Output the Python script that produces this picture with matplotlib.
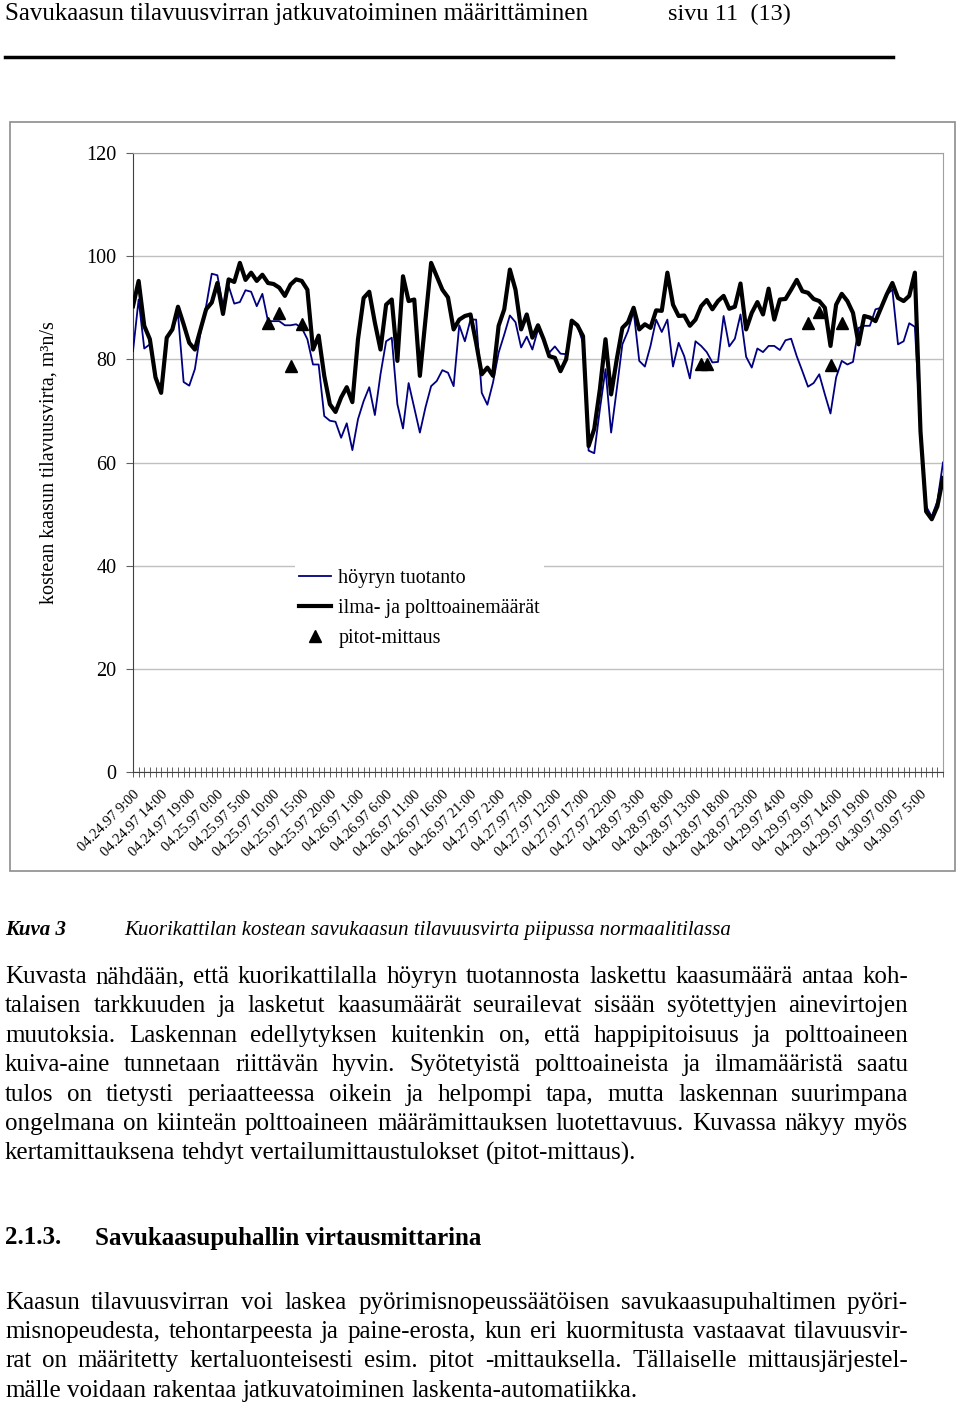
import matplotlib
matplotlib.use("Agg")
import matplotlib.pyplot as plt
import matplotlib.transforms as mtransforms
from matplotlib.lines import Line2D
from matplotlib.patches import Rectangle

plt.rcParams['font.family'] = ['Liberation Serif', 'DejaVu Serif']

W, H = 960, 1405

# hourly values 04.24.97 9:00 ... 04.30.97 9:00
hoyry = [81.6, 91.6, 82.1, 82.9, 76.8, 74.2, 84.2, 86.1, 88.7, 75.6,
         74.9, 78.1, 85.2, 90.3, 96.6, 96.3, 90.3, 94.2, 90.8, 91.1,
         93.4, 93.1, 90.3, 92.7, 87.4, 87.4, 87.4, 86.6, 86.6, 86.8,
         86.1, 83.9, 79.0, 79.0, 69.0, 68.1, 67.9, 64.8, 67.6, 62.4,
         68.4, 71.9, 74.6, 69.2, 77.1, 83.5, 84.2, 71.3, 66.6, 75.4,
         70.6, 65.8, 70.7, 74.8, 75.8, 77.9, 77.4, 74.8, 86.6, 83.5,
         87.7, 87.7, 73.5, 71.2, 75.5, 81.3, 84.8, 88.5, 87.2, 82.3,
         84.4, 81.9, 85.8, 83.9, 81.3, 82.5, 81.1, 81.0, 87.5, 86.6,
         83.2, 62.3, 61.8, 70.3, 78.1, 65.8, 74.2, 82.9, 85.5, 89.4,
         79.7, 78.6, 82.6, 87.7, 85.3, 87.7, 78.6, 83.2, 80.6, 76.3,
         83.5, 82.6, 81.4, 79.4, 79.5, 88.4, 82.5, 84.0, 88.7, 80.5,
         78.4, 82.1, 81.4, 82.6, 82.6, 81.8, 83.7, 84.0, 80.6, 77.7,
         74.7, 75.4, 77.1, 73.2, 69.5, 76.5, 79.7, 79.0, 79.5, 86.1,
         86.5, 86.5, 89.7, 90.0, 92.6, 93.5, 82.9, 83.5, 87.0, 86.3,
         66.0, 51.5, 49.5, 52.5, 60.0]

ilma = [90.3, 95.2, 86.5, 83.9, 76.5, 73.5, 84.2, 85.8, 90.2, 86.8,
        83.2, 81.9, 85.8, 89.7, 91.0, 94.8, 88.8, 95.5, 95.0, 98.7,
        95.4, 96.8, 95.2, 96.4, 94.8, 94.6, 93.9, 92.3, 94.5, 95.5,
        95.2, 93.5, 81.9, 84.6, 76.8, 71.3, 69.8, 72.6, 74.6, 71.7,
        83.9, 91.9, 93.1, 87.1, 81.9, 90.6, 91.6, 79.7, 96.1, 91.3,
        91.6, 76.8, 87.7, 98.7, 96.1, 93.5, 92.0, 85.8, 87.7, 88.4,
        88.7, 83.2, 77.1, 78.4, 76.8, 86.5, 89.7, 97.4, 93.5, 85.8,
        88.7, 84.2, 86.6, 83.9, 80.6, 80.3, 77.7, 80.0, 87.5, 86.6,
        84.5, 63.2, 66.5, 74.2, 83.9, 73.2, 80.0, 86.1, 87.2, 90.0,
        85.8, 86.8, 86.1, 89.5, 89.4, 96.8, 90.6, 88.4, 88.5, 86.5,
        87.7, 90.3, 91.5, 89.7, 91.3, 92.3, 89.8, 90.2, 94.7, 85.8,
        89.0, 91.1, 88.7, 93.7, 87.7, 91.6, 91.7, 93.5, 95.4, 93.2,
        92.9, 91.7, 91.3, 90.0, 82.6, 90.6, 92.7, 91.3, 89.0, 82.9,
        88.4, 88.1, 87.4, 90.0, 92.6, 94.8, 91.9, 91.3, 92.3, 96.8,
        66.0, 50.5, 49.0, 51.5, 57.0]

pitot_idx = [24, 26, 28, 30, 101, 102, 120, 122, 124, 126]
pitot_val = [87.0, 89.0, 78.8, 86.8, 79.0, 79.0, 87.0, 89.2, 78.9, 87.0]

xlabels = ['04.24.97 9:00', '04.24.97 14:00', '04.24.97 19:00', '04.25.97 0:00',
           '04.25.97 5:00', '04.25.97 10:00', '04.25.97 15:00', '04.25.97 20:00',
           '04.26.97 1:00', '04.26.97 6:00', '04.26.97 11:00', '04.26.97 16:00',
           '04.26.97 21:00', '04.27.97 2:00', '04.27.97 7:00', '04.27.97 12:00',
           '04.27.97 17:00', '04.27.97 22:00', '04.28.97 3:00', '04.28.97 8:00',
           '04.28.97 13:00', '04.28.97 18:00', '04.28.97 23:00', '04.29.97 4:00',
           '04.29.97 9:00', '04.29.97 14:00', '04.29.97 19:00', '04.30.97 0:00',
           '04.30.97 5:00']

para1 = ["Kuvasta nähdään, että kuorikattilalla höyryn tuotannosta laskettu kaasumäärä antaa koh-",
         "talaisen tarkkuuden ja lasketut kaasumäärät seurailevat sisään syötettyjen ainevirtojen",
         "muutoksia. Laskennan edellytyksen kuitenkin on, että happipitoisuus ja polttoaineen",
         "kuiva-aine tunnetaan riittävän hyvin. Syötetyistä polttoaineista ja ilmamääristä saatu",
         "tulos on tietysti periaatteessa oikein ja helpompi tapa, mutta laskennan suurimpana",
         "ongelmana on kiinteän polttoaineen määrämittauksen luotettavuus. Kuvassa näkyy myös",
         "kertamittauksena tehdyt vertailumittaustulokset (pitot-mittaus)."]
para2 = ["Kaasun tilavuusvirran voi laskea pyörimisnopeussäätöisen savukaasupuhaltimen pyöri-",
         "misnopeudesta, tehontarpeesta ja paine-erosta, kun eri kuormitusta vastaavat tilavuusvir-",
         "rat on määritetty kertaluonteisesti esim. pitot -mittauksella. Tällaiselle mittausjärjestel-",
         "mälle voidaan rakentaa jatkuvatoiminen laskenta-automatiikka."]


def fx(px):
    return px / W


def fy(py):
    return 1 - py / H


fig = plt.figure(figsize=(W / 100, H / 100), dpi=100)
r = fig.canvas.get_renderer()

# page header
fig.text(fx(5), fy(14), "Savukaasun tilavuusvirran jatkuvatoiminen määrittäminen",
         fontsize=18, va='center')
fig.text(fx(668), fy(14), "sivu 11  (13)", fontsize=17.5, va='center')
fig.add_artist(Line2D([fx(5), fx(893)], [fy(57), fy(57)], color='black', lw=2.5))

# chart frame
fig.add_artist(Rectangle((fx(10), fy(871)), fx(955) - fx(10), fy(122) - fy(871),
                         fill=False, edgecolor='#8c8c8c', lw=1.2))

ax = fig.add_axes([fx(133), fy(772), fx(943) - fx(133), fy(153) - fy(772)])
x = list(range(len(ilma)))
ax.plot(x, hoyry, color='#000080', lw=1.3, label='höyryn tuotanto', zorder=3)
ax.plot(x, ilma, color='black', lw=3.0, label='ilma- ja polttoainemäärät', zorder=4)
ax.plot(pitot_idx, pitot_val, ls='none', marker='^', color='black', ms=9,
        label='pitot-mittaus', zorder=5)

ax.set_xlim(0, len(ilma) - 1)
ax.set_ylim(0, 120)
ax.set_yticks(range(0, 121, 20))
ax.yaxis.grid(True, color='#c0c0c0', lw=1)
ax.set_axisbelow(True)
ax.set_xticks(range(0, 5 * len(xlabels), 5))
ax.set_xticks(x, minor=True)
ax.set_xticklabels(xlabels, rotation=45, ha='right', va='top',
                   rotation_mode='anchor', fontsize=10.5)
shift = mtransforms.ScaledTranslation(-5 / 100, 0, fig.dpi_scale_trans)
for lab in ax.get_xticklabels():
    lab.set_transform(lab.get_transform() + shift)
ax.tick_params(axis='x', which='both', direction='inout', length=7, width=0.7,
               color='#606060', pad=8)
ax.tick_params(axis='y', direction='out', length=5, width=0.8, color='#606060',
               labelsize=14.5, pad=7)
for s in ['top', 'right']:
    ax.spines[s].set_color('#a0a0a0')
for s in ['left', 'bottom']:
    ax.spines[s].set_color('#404040')
ax.set_ylabel("kostean kaasun tilavuusvirta, m³n/s", fontsize=14.5, labelpad=20)

leg = ax.legend(loc='upper left', bbox_to_anchor=((295 - 133) / 810, (772 - 565) / 619),
                fontsize=14.5, frameon=True, framealpha=1, edgecolor='none',
                facecolor='white', handlelength=1.6, handletextpad=0.35,
                labelspacing=0.55, borderpad=0.2, borderaxespad=0)
leg.get_frame().set_boxstyle('square', pad=0)

# caption
fig.text(fx(5), fy(930), "Kuva 3", fontsize=15, style='italic', weight='bold', va='center')
fig.text(fx(124), fy(930),
         "Kuorikattilan kostean savukaasun tilavuusvirta piipussa normaalitilassa",
         fontsize=15, style='italic', va='center')


def justified(line, x0, x1, y, size, last=False):
    words = line.split()
    texts = [fig.text(0, 0, w, fontsize=size, va='center') for w in words]
    widths = [t.get_window_extent(r).width for t in texts]
    if last or len(words) < 2:
        gap = 0.25 * size * 100 / 72
    else:
        gap = (x1 - x0 - sum(widths)) / (len(words) - 1)
    xp = x0
    for t, w in zip(texts, widths):
        t.set_position((fx(xp), fy(y)))
        xp += w + gap


for i, line in enumerate(para1):
    justified(line, 5, 908, 977 + i * 29.4, 18, last=(i == len(para1) - 1))

fig.text(fx(5), fy(1238), "2.1.3.", fontsize=18, weight='bold', va='center')
fig.text(fx(95), fy(1238), "Savukaasupuhallin virtausmittarina", fontsize=18,
         weight='bold', va='center')

for i, line in enumerate(para2):
    justified(line, 5, 908, 1303 + i * 29.2, 18, last=(i == len(para2) - 1))

fig.savefig("out.png", dpi=100)
